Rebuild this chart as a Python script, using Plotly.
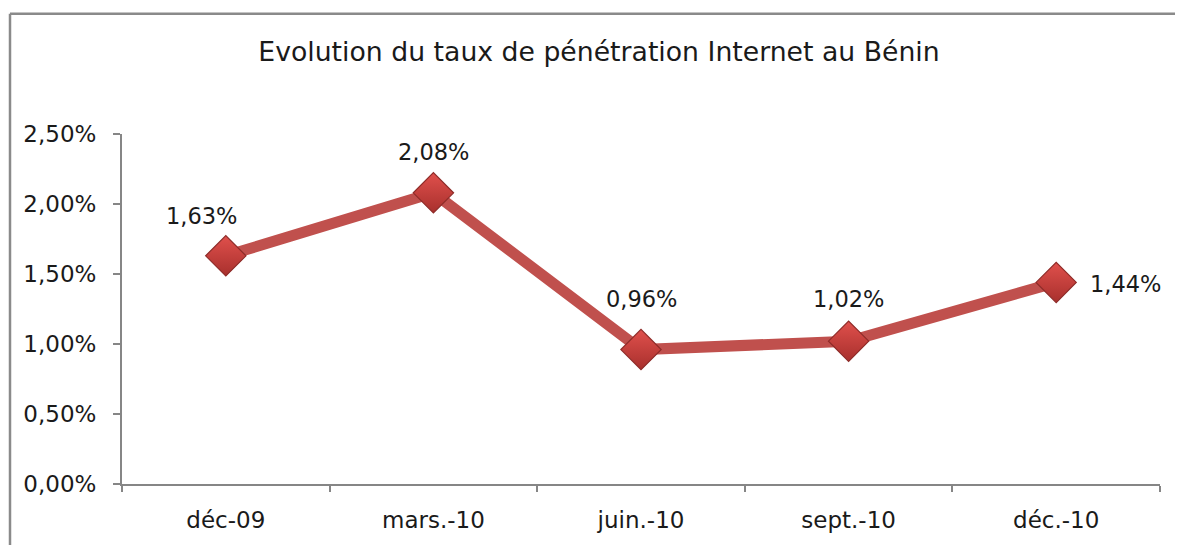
import plotly.graph_objects as go

categories = ["déc-09", "mars.-10", "juin.-10", "sept.-10", "déc.-10"]
values = [0.0163, 0.0208, 0.0096, 0.0102, 0.0144]
label_texts = ["1,63%", "2,08%", "0,96%", "1,02%", "1,44%"]
ytick_vals = [0, 0.005, 0.01, 0.015, 0.02, 0.025]
ytick_text = ["0,00%", "0,50%", "1,00%", "1,50%", "2,00%", "2,50%"]

label_dx = [-24, 0, 0, 0, 69]
label_dy = [40, 41, 51, 42, -2]

FONT = "'DejaVu Sans', sans-serif"

# page has an 8px body margin, so the figure starts at (8, 8)
L, T = 114, 126
PW, PH = 1038, 352

fig = go.Figure()
fig.add_trace(go.Scatter(
    x=categories, y=values, mode="lines+markers",
    line=dict(color="#C0504D", width=11),
    marker=dict(symbol="diamond", size=31, color="#E0504C",
                line=dict(color="#8E2B28", width=1.2),
                gradient=dict(type="vertical", color="#A8302D")),
    hoverinfo="skip", showlegend=False,
))

for c, v, t, dx, dy in zip(categories, values, label_texts, label_dx, label_dy):
    fig.add_annotation(x=c, y=v, text=t, showarrow=False, xshift=dx, yshift=dy,
                       font=dict(size=22.5, color="#1a1a1a", family=FONT))

fig.update_layout(
    width=1175, height=537,
    margin=dict(l=L, r=1175 - L - PW, t=T, b=537 - T - PH),
    paper_bgcolor="white", plot_bgcolor="white",
    font=dict(family=FONT, size=23, color="#1a1a1a"),
    title=dict(text="Evolution du taux de pénétration Internet au Bénin",
               x=(599 - 8) / 1175, xanchor="center", y=1 - (52 - 8) / 537, yanchor="middle",
               font=dict(size=26.7, color="#1a1a1a", family=FONT)),
    xaxis=dict(range=[-0.5, 4.5], showgrid=False, showline=True, linecolor="#868686", linewidth=2,
               ticks="outside", ticklen=6, tickcolor="#868686", tickwidth=2,
               tickson="boundaries", tickfont=dict(size=23), zeroline=False,
               ticklabelstandoff=14),
    yaxis=dict(range=[0, 0.025], tickvals=ytick_vals, ticktext=ytick_text,
               showgrid=False, showline=True, linecolor="#868686", linewidth=2,
               ticks="outside", ticklen=7, tickcolor="#868686", tickwidth=2,
               tickfont=dict(size=23), zeroline=False, ticklabelstandoff=12),
)

# outer chart border (top and left visible)
bx = (10 - 8 - L) / PW
by = (T + PH - (13 - 8)) / PH
fig.add_shape(type="line", xref="paper", yref="paper",
              x0=bx, x1=1.1, y0=by, y1=by,
              line=dict(color="#8a8a8a", width=2.5))
fig.add_shape(type="line", xref="paper", yref="paper",
              x0=bx, x1=bx, y0=-0.3, y1=by,
              line=dict(color="#8a8a8a", width=2.5))

fig.write_html("out.html")
